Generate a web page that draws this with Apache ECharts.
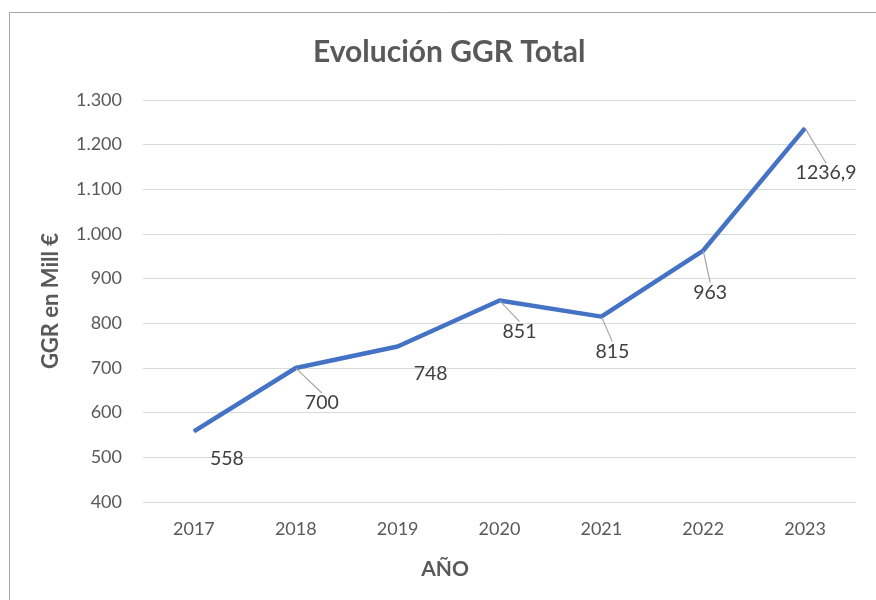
<!DOCTYPE html>
<html><head><meta charset="utf-8">
<style>html,body{margin:0;padding:0;background:#fff}#c{width:876px;height:600px}</style>
<script src="https://cdn.jsdelivr.net/npm/echarts@6/dist/echarts.min.js"></script>
</head><body><div id="c"></div>
<script>
const years = ['2017','2018','2019','2020','2021','2022','2023'];
const ggr = [558, 700, 748, 851, 815, 963, 1236.9];
const labelText = ['558','700','748','851','815','963','1236,9'];
const showLeader = [false, true, false, true, true, true, true];
const labelShift = [[33,27],[26,35],[33,27],[20,31],[11,35],[7,42],[21,45]];

const chart = echarts.init(document.getElementById('c'));
const FONT = 'Lato, "Open Sans", sans-serif';
chart.setOption({
  animation: false,
  graphic: [
    {type:'rect', shape:{x:9.5,y:12.5,width:900,height:620}, style:{fill:'none', stroke:'#a6a6a6', lineWidth:1}, silent:true},
    {type:'text', x:445, y:569, style:{text:'AÑO', textAlign:'center', textVerticalAlign:'middle', fontFamily:FONT, fontSize:21, fontWeight:'bold', fill:'#595959'}, silent:true}
  ],
  title: {text:'Evolución GGR Total', left:308, top:32, textStyle:{fontFamily:FONT, fontSize:30, fontWeight:'bold', color:'#595959'}},
  grid: {left:143, right:20, top:100, bottom:98},
  xAxis: {type:'category', data:years, boundaryGap:true,
    axisLine:{show:false}, axisTick:{show:false},
    axisLabel:{fontFamily:FONT, fontSize:18, color:'#595959', margin:18}},
  yAxis: {type:'value', min:400, max:1300, interval:100,
    axisLine:{show:false}, axisTick:{show:false},
    splitLine:{lineStyle:{color:'#d9d9d9', width:1}},
    axisLabel:{fontFamily:FONT, fontSize:18, color:'#595959', margin:21,
      formatter: v => v >= 1000 ? Math.floor(v/1000)+'.'+String(v%1000).padStart(3,'0') : String(v)},
    name:'GGR en Mill €', nameLocation:'middle', nameGap:81, nameRotate:90,
    nameTextStyle:{fontFamily:FONT, fontSize:22, fontWeight:'bold', color:'#595959'}},
  series: [{
    type:'line', symbol:'circle', symbolSize:1,
    data: ggr.map((v,i)=>({value:v, labelLine:{show:showLeader[i]}})),
    lineStyle:{color:'#4472C4', width:4.5},
    itemStyle:{color:'#4472C4'},
    label:{show:true, position:'inside', align:'center', verticalAlign:'middle',
      fontFamily:FONT, fontSize:19.5, color:'#404040', padding:[6,4],
      formatter: p => labelText[p.dataIndex]},
    labelLine:{show:true, lineStyle:{color:'#a6a6a6', width:1.2}},
    labelLayout: p => ({dx: labelShift[p.dataIndex][0], dy: labelShift[p.dataIndex][1]})
  }]
});
</script></body></html>
